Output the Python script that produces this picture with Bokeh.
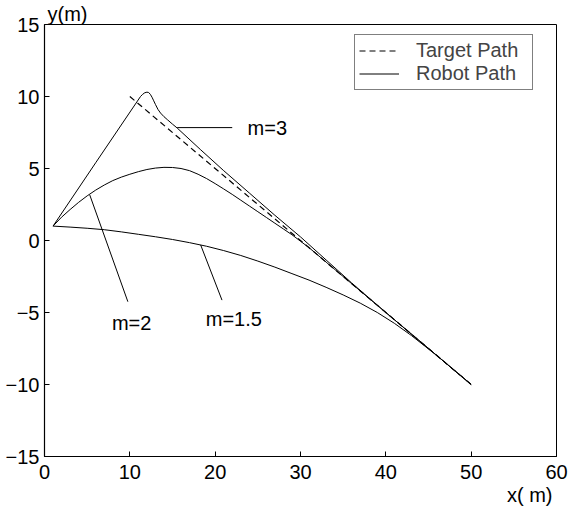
from bokeh.plotting import figure
from bokeh.models import Range1d, FixedTicker, Legend, LegendItem, Title
from bokeh.core.properties import value
from bokeh.embed import file_html
from bokeh.resources import INLINE

# ---- data ----
target_x = [10, 50]
target_y = [10, -10]

m3_x = [1, 6, 11.25, 11.5, 11.75, 12.0, 12.2, 12.4, 12.6, 12.8, 13.0, 13.3, 13.6, 14.0, 14.4, 15.0, 15.55,
        18.3, 21, 24, 27, 30, 33, 36, 40, 45, 50]
m3_y = [1, 5.4, 10.0, 10.15, 10.26, 10.3, 10.28, 10.15, 9.95, 9.7, 9.45, 9.1, 8.85, 8.6, 8.39, 8.08, 7.81,
        6.3, 4.85, 3.3, 1.75, 0.25, -1.35, -2.95, -5.0, -7.5, -10]

m2_x = [1, 2, 3, 4, 5, 6, 7, 8, 9, 10, 11, 12, 13, 14, 15, 16, 17, 18, 19, 20, 21, 22, 23, 24, 25,
        26, 27, 28, 29, 30, 31, 32, 33, 36, 40, 45, 50]
m2_y = [1, 1.62, 2.15, 2.65, 3.1, 3.5, 3.85, 4.16, 4.4, 4.6, 4.78, 4.93, 5.03, 5.08, 5.07, 5.0, 4.85,
        4.6, 4.3, 3.95, 3.58, 3.2, 2.8, 2.4, 2.0, 1.6, 1.2, 0.8, 0.4, -0.05, -0.5, -1.0, -1.5, -3.0,
        -5.0, -7.5, -10]

m15_x = [1, 3, 5, 7, 9, 11, 13, 15, 17, 19, 21, 23, 25, 27, 29, 31, 33, 35, 37, 39, 41, 43, 44.5, 46, 48, 50]
m15_y = [1, 0.93, 0.85, 0.75, 0.6, 0.43, 0.26, 0.07, -0.15, -0.4, -0.7, -1.04, -1.43, -1.85, -2.3,
         -2.75, -3.25, -3.78, -4.35, -5.0, -5.75, -6.6, -7.3, -8.0, -9.0, -10]

label_texts = ["m=3", "m=2", "m=1.5"]
label_tx = [23.8, 7.9, 18.9]
label_ty = [7.84, -5.7, -5.45]
leader_x0 = [15.55, 5.3, 18.3]
leader_y0 = [7.84, 3.17, -0.31]
leader_x1 = [22.0, 9.77, 20.8]
leader_y1 = [7.84, -4.25, -4.14]

x_ticks = [0, 10, 20, 30, 40, 50, 60]
y_ticks = [-15, -10, -5, 0, 5, 10, 15]

FONT = "Liberation Sans"
FS = "20px"

p = figure(width=568, height=511, output_backend="svg", toolbar_location=None,
           x_range=Range1d(0, 60), y_range=Range1d(-15, 15),
           min_border_left=44, min_border_right=12, min_border_top=0, min_border_bottom=55)
p.grid.visible = False
p.background_fill_color = "white"
p.border_fill_color = "white"
p.outline_line_color = "black"
p.outline_line_width = 1

for ax, ticks in ((p.xaxis[0], x_ticks), (p.yaxis[0], y_ticks)):
    ax.ticker = FixedTicker(ticks=ticks)
    ax.minor_tick_line_color = None
    ax.major_tick_in = 5
    ax.major_tick_out = 0
    ax.axis_line_color = "black"
    ax.axis_line_width = 1.2
    ax.major_tick_line_color = "black"
    ax.major_label_text_font = FONT
    ax.major_label_text_font_size = FS
    ax.major_label_text_color = "black"
p.xaxis.major_label_standoff = 8
p.yaxis.major_label_standoff = 5

ttl = Title(text="y(m)", align="left", offset=3, text_font=FONT, text_font_size=FS,
            text_font_style="normal", standoff=0, text_color="black")
p.add_layout(ttl, "above")

xttl = Title(text="x( m)", align="right", offset=4, text_font=FONT, text_font_size=FS,
             text_font_style="normal", standoff=0, text_color="black")
p.add_layout(xttl, "below")

r_t = p.line(target_x, target_y, line_color="black", line_width=1.2, line_dash="6 4")
r_3 = p.line(m3_x, m3_y, line_color="black", line_width=1)
p.line(m2_x, m2_y, line_color="black", line_width=1)
p.line(m15_x, m15_y, line_color="black", line_width=1)

p.segment(x0=leader_x0, y0=leader_y0, x1=leader_x1, y1=leader_y1, line_color="black", line_width=1)
p.text(x=label_tx, y=label_ty, text=label_texts, text_font=value(FONT), text_font_size=value(FS),
       text_baseline="middle", text_align="left", text_color="black")

legend = Legend(items=[LegendItem(label="Target Path", renderers=[r_t]),
                       LegendItem(label="Robot Path", renderers=[r_3])],
                location=(310, 366))
legend.label_text_font = FONT
legend.label_text_font_size = FS
legend.border_line_color = "black"
legend.border_line_width = 1
legend.background_fill_color = "white"
legend.padding = 4
legend.spacing = 0
legend.margin = 0
legend.glyph_width = 40
legend.glyph_height = 19
legend.label_height = 19
legend.label_width = 112
legend.label_standoff = 17
p.add_layout(legend, "center")

open("out.html", "w").write(file_html(p, INLINE))
